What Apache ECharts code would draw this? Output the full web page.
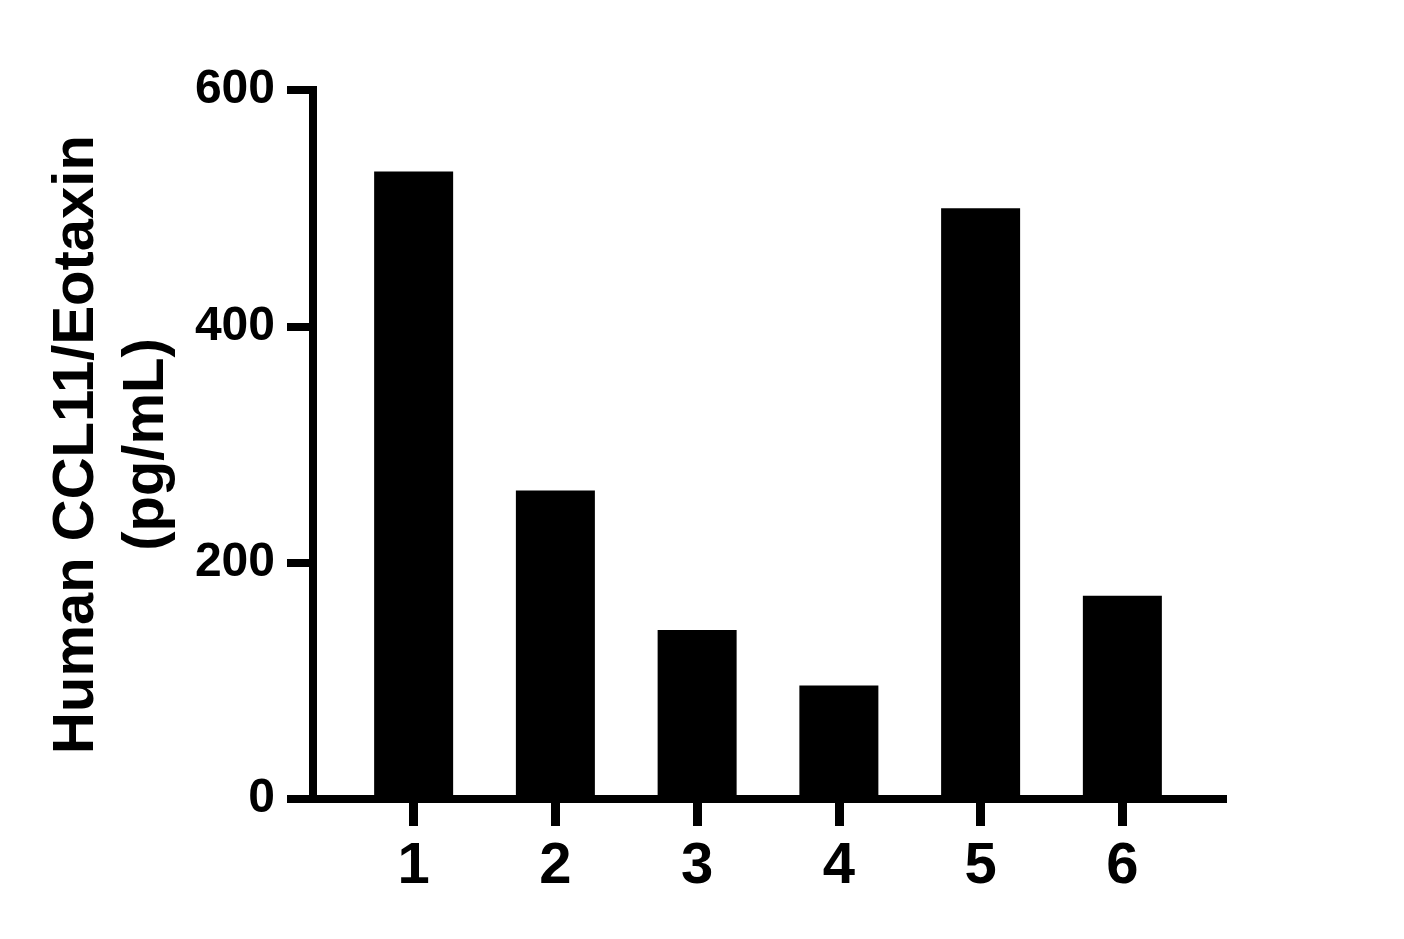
<!DOCTYPE html>
<html>
<head>
<meta charset="utf-8">
<script src="https://cdn.jsdelivr.net/npm/echarts@6/dist/echarts.min.js"></script>
<style>
html,body{margin:0;padding:0;background:#fff;}
#chart{width:1404px;height:939px;}
</style>
</head>
<body>
<div id="chart"></div>
<script>
const categories = [1, 2, 3, 4, 5, 6];
const values = [531, 261, 143, 96, 500, 172];
const yTicks = [0, 200, 400, 600];
const yTitle = 'Human CCL11/Eotaxin\n(pg/mL)';

const FONT = '"Liberation Sans", Arial, Helvetica, sans-serif';
const chart = echarts.init(document.getElementById('chart'), null, {renderer: 'canvas'});
chart.setOption({
  backgroundColor: '#ffffff',
  animation: false,
  grid: {left: 313, top: 90, right: 181, bottom: 140, containLabel: false},
  xAxis: {
    type: 'value',
    min: 0.29,
    max: 6.71,
    splitLine: {show: false},
    axisLine: {show: true, lineStyle: {color: '#000', width: 8, cap: 'square'}},
    axisTick: {show: true, customValues: categories, length: 27, lineStyle: {color: '#000', width: 9}},
    axisLabel: {
      show: true, customValues: categories, margin: 39,
      color: '#000', fontFamily: FONT, fontWeight: 'bold', fontSize: 58,
      formatter: v => String(Math.round(v))
    }
  },
  yAxis: {
    type: 'value',
    min: yTicks[0],
    max: yTicks[yTicks.length - 1],
    interval: 200,
    splitLine: {show: false},
    axisLine: {show: true, lineStyle: {color: '#000', width: 8, cap: 'square'}},
    axisTick: {show: true, length: 26, lineStyle: {color: '#000', width: 8}},
    axisLabel: {
      margin: 38, color: '#000', fontFamily: FONT, fontWeight: 'bold', fontSize: 48
    },
    name: yTitle,
    nameLocation: 'middle',
    nameRotate: 90,
    nameGap: 131,
    nameTextStyle: {
      color: '#000', fontFamily: FONT, fontWeight: 'bold', fontSize: 58, lineHeight: 70, align: 'center'
    }
  },
  series: [{
    type: 'bar',
    data: categories.map((c, i) => [c, values[i]]),
    barWidth: 79,
    itemStyle: {color: '#000'},
    z: 1
  }]
});
</script>
</body>
</html>
